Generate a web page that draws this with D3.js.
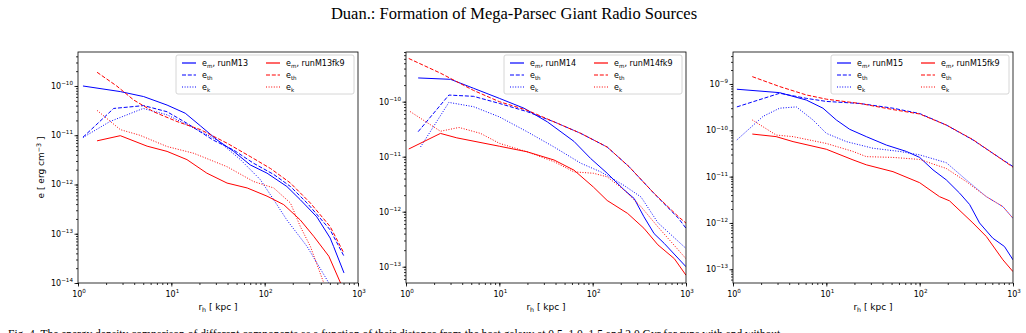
<!DOCTYPE html>
<meta charset="utf-8">
<head>
  <script src="https://cdn.jsdelivr.net/npm/d3@7/dist/d3.min.js"></script>
  <style>
    body { margin: 0; background: #fff; }
    svg text { font-family: "DejaVu Sans", sans-serif; fill: #000; }
    .title, .caption { font-family: "Liberation Serif", "Times New Roman", serif; }
    .axis path, .axis line { stroke: #000; stroke-width: 0.8; }
  </style>
</head>
<body>
<script>
// run names and what each line is
var runs = ["M13", "M14", "M15"];
var quantities = ["em", "eth", "ek"];

// y-axis range of each panel
var yDomains = [[1e-14, 4.9e-10], [5.06e-14, 8.0e-10], [5.06e-14, 4.9e-9]];
var yTicks = [[1e-14, 1e-13, 1e-12, 1e-11, 1e-10], [1e-13, 1e-12, 1e-11, 1e-10], [1e-13, 1e-12, 1e-11, 1e-10, 1e-9]];
var xTicks = [1, 10, 100, 1000];

// [r_h (kpc), e (erg cm^-3)]
var m13_em = [[1.13,1.0e-10],[2.84,7.7e-11],[5.05,6.1e-11],[9,4.1e-11],[14.1,2.8e-11],[20.5,1.55e-11],[31,8e-12],[46.6,4.7e-12],[70,2.5e-12],[106,1.7e-12],[173,9.1e-13],[241,4.9e-13],[362,2.2e-13],[503,8.2e-14],[548,5.5e-14],[708,1.6e-14]];
var m13_eth = [[1.13,9.1e-12],[2.41,3.5e-11],[5.05,4.0e-11],[9,3.0e-11],[14.7,1.75e-11],[28,8e-12],[46.6,5e-12],[76,2.7e-12],[125,1.6e-12],[189,9.1e-13],[285,4.2e-13],[503,1.2e-13],[708,3.5e-14]];
var m13_ek = [[1.13,9e-12],[2.2,1.9e-11],[5,3.5e-11],[9,2.6e-11],[17.4,1.4e-11],[31,8e-12],[55,3.2e-12],[90,1.25e-12],[125,4.9e-13],[173,1.9e-13],[285,5.5e-14],[487,1e-14],[520,7e-15]];
var m13fk9_em = [[1.6,7.7e-12],[2.84,9.8e-12],[5.5,6e-12],[9,4.7e-12],[14.7,3.2e-12],[24,1.7e-12],[39.5,1.07e-12],[65,8.5e-13],[106,5.8e-13],[160,3.9e-13],[241,1.9e-13],[335,8.9e-14],[487,3.5e-14],[650,1e-14],[700,7e-15]];
var m13fk9_eth = [[1.6,1.9e-10],[2.6,1e-10],[3.95,5.2e-11],[6.45,3e-11],[11.5,1.9e-11],[20.5,1.3e-11],[39.5,6.9e-12],[70,3.7e-12],[116,2.1e-12],[189,1.07e-12],[309,4.2e-13],[503,1.4e-13],[708,4e-14]];
var m13fk9_ek = [[1.6,3.2e-11],[2.84,1.3e-11],[4.6,1e-11],[9,5.9e-12],[17.4,4.3e-12],[39.5,2.3e-12],[76,1.15e-12],[125,8.5e-13],[189,4.2e-13],[241,1.4e-13],[309,5.5e-14],[430,1e-14],[470,7e-15]];

var m14_em = [[1.35,2.7e-10],[3.0,2.55e-10],[5.3,1.75e-10],[10,1.15e-10],[18.4,7.6e-11],[32.7,4.3e-11],[63,1.9e-11],[95,9.3e-12],[143,5e-12],[217,2.5e-12],[278,1.74e-12],[354,8.1e-13],[455,4e-13],[585,2.65e-13],[1000,1e-13]];
var m14_eth = [[1.35,2.85e-11],[2.88,1.32e-10],[5.3,1.25e-10],[10,9.3e-11],[19.8,6.6e-11],[38.6,4.3e-11],[74.7,2.65e-11],[143,1.5e-11],[245,6.6e-12],[455,2.15e-12],[830,7.6e-13],[1000,5e-13]];
var m14_ek = [[1.43,1.5e-11],[2.88,9.7e-11],[5.3,8.1e-11],[10,5.3e-11],[19.8,2.85e-11],[38.6,1.5e-11],[74.7,7.6e-12],[122,5.3e-12],[217,3e-12],[330,1.85e-12],[500,6.3e-13],[1000,2.15e-13]];
var m14fk9_em = [[1.07,1.38e-11],[2.34,2.65e-11],[3.5,2.2e-11],[10,1.55e-11],[19.8,1.23e-11],[38.6,8.7e-12],[63,5.7e-12],[102,2.8e-12],[143,1.6e-12],[237,9.3e-13],[354,5e-13],[500,2.5e-13],[750,1.4e-13],[1000,7e-14]];
var m14fk9_eth = [[1.07,6.1e-10],[2.34,3.3e-10],[5.3,1.6e-10],[10,1e-10],[19.8,7e-11],[38.6,4.3e-11],[74.7,2.65e-11],[143,1.5e-11],[245,6.6e-12],[455,2.15e-12],[830,8.1e-13],[1000,6.2e-13]];
var m14fk9_ek = [[1.11,6.6e-11],[2.34,2.9e-11],[3.7,3.4e-11],[6.3,2.65e-11],[10,1.75e-11],[19.8,1.23e-11],[38.6,8.1e-12],[63,5.3e-12],[102,5e-12],[143,4.3e-12],[217,2.5e-12],[330,1.23e-12],[500,5.3e-13],[1000,1.4e-13]];

var m15_em = [[1.1,7.7e-10],[3.16,6.5e-10],[6.1,4.5e-10],[9.2,3e-10],[12.8,1.67e-10],[17.8,1.05e-10],[26.8,7.3e-11],[44,4.8e-11],[72,3.5e-11],[100,2.6e-11],[139,1.4e-11],[193,8.5e-12],[268,4.4e-12],[343,2.5e-12],[438,1e-12],[607,4.7e-13],[810,3.1e-13],[1000,1.6e-13]];
var m15_eth = [[1.1,3.2e-10],[3.16,6.3e-10],[6.1,4.9e-10],[10,4.2e-10],[22.7,3.8e-10],[51.8,3e-10],[100,2.3e-10],[193,1.3e-10],[372,6.2e-11],[607,3.2e-11],[1000,1.65e-11]];
var m15_ek = [[1.1,6.2e-11],[2.1,2e-10],[3.16,3e-10],[4.77,3.2e-10],[7.2,1.67e-10],[10,8.6e-11],[16.4,5.7e-11],[31.6,4.1e-11],[61,3.5e-11],[100,2.95e-11],[193,2e-11],[316,8.5e-12],[518,3.7e-12],[780,2.25e-12],[1000,1.26e-12]];
var m15fk9_em = [[1.61,8.3e-11],[2.9,7.3e-11],[4.4,5.7e-11],[10,3.9e-11],[19.3,2.3e-11],[26.8,1.8e-11],[51.8,1.28e-11],[100,7.4e-12],[163,3.7e-12],[209,3e-12],[372,1e-12],[518,5.1e-13],[780,1.6e-13],[1000,8.9e-14]];
var m15fk9_eth = [[1.61,1.44e-9],[3.16,8.8e-10],[6.1,5.8e-10],[10,4.7e-10],[22.7,3.8e-10],[51.8,2.8e-10],[100,2.25e-10],[193,1.3e-10],[372,6.3e-11],[607,3.2e-11],[1000,1.6e-11]];
var m15fk9_ek = [[1.61,1.67e-10],[2.9,7.9e-11],[4.4,7.3e-11],[10,5.2e-11],[19.3,3.5e-11],[26.8,2.7e-11],[51.8,2.6e-11],[100,2.35e-11],[193,1.5e-11],[316,7.8e-12],[518,3.7e-12],[780,2.25e-12],[1000,1.26e-12]];

var series = [
  [m13_em, m13_eth, m13_ek, m13fk9_em, m13fk9_eth, m13fk9_ek],
  [m14_em, m14_eth, m14_ek, m14fk9_em, m14fk9_eth, m14fk9_ek],
  [m15_em, m15_eth, m15_ek, m15fk9_em, m15fk9_eth, m15fk9_ek]
];

var W = 1026, H = 333;
var panelLeft = [78, 406, 733];
var pw = 280, top0 = 52, bot0 = 283;
var dashes = {em: null, eth: "4,1.8", ek: "1,1.6"};

var svg = d3.select("body").append("svg").attr("width", W).attr("height", H);

svg.append("text").attr("class", "title")
  .attr("x", 514).attr("y", 19).attr("text-anchor", "middle")
  .style("font-size", "16.5px")
  .text("Duan.: Formation of Mega-Parsec Giant Radio Sources");

function minorTicks(dom) {
  var out = [];
  var lo = Math.floor(Math.log10(dom[0])), hi = Math.ceil(Math.log10(dom[1]));
  for (var p = lo; p <= hi; p++)
    for (var k = 1; k < 10; k++) {
      var v = k * Math.pow(10, p);
      if (v >= dom[0] * 0.999 && v <= dom[1] * 1.001) out.push(v);
    }
  return out;
}

function powLabel(sel, v) {
  var p = Math.round(Math.log10(v));
  sel.text("10");
  sel.append("tspan").attr("dy", -3.8).style("font-size", "5.6px").text(String(p).replace("-", "\u2212"));
}

runs.forEach(function(run, i) {
  var x0 = panelLeft[i];
  var x = d3.scaleLog().domain([1, 1000]).range([x0, x0 + pw]);
  var y = d3.scaleLog().domain(yDomains[i]).range([bot0, top0]);
  var g = svg.append("g");

  g.append("clipPath").attr("id", "clip" + i).append("rect")
    .attr("x", x0).attr("y", top0).attr("width", pw).attr("height", bot0 - top0);

  // minor and major ticks
  g.append("g").attr("class", "axis").attr("transform", "translate(0," + bot0 + ")")
    .call(d3.axisBottom(x).tickValues(minorTicks([1, 1000])).tickSize(2).tickFormat(""))
    .select(".domain").remove();
  g.append("g").attr("class", "axis").attr("transform", "translate(0," + bot0 + ")")
    .call(d3.axisBottom(x).tickValues(xTicks).tickSize(3.5).tickFormat(""))
    .select(".domain").remove();
  g.append("g").attr("class", "axis").attr("transform", "translate(" + x0 + ",0)")
    .call(d3.axisLeft(y).tickValues(minorTicks(yDomains[i])).tickSize(2).tickFormat(""))
    .select(".domain").remove();
  g.append("g").attr("class", "axis").attr("transform", "translate(" + x0 + ",0)")
    .call(d3.axisLeft(y).tickValues(yTicks[i]).tickSize(3.5).tickFormat(""))
    .select(".domain").remove();

  xTicks.forEach(function(v) {
    g.append("text").attr("x", x(v) + 1).attr("y", 296.5).attr("text-anchor", "middle")
      .style("font-size", "8px").call(powLabel, v);
  });
  yTicks[i].forEach(function(v) {
    g.append("text").attr("x", x0 - 5).attr("y", y(v) + 3).attr("text-anchor", "end")
      .style("font-size", "8px").call(powLabel, v);
  });

  // lines
  var line = d3.line().x(function(d) { return x(d[0]); }).y(function(d) { return y(d[1]); });
  series[i].forEach(function(s, j) {
    g.append("path").datum(s)
      .attr("clip-path", "url(#clip" + i + ")")
      .attr("d", line)
      .attr("fill", "none")
      .style("stroke", j < 3 ? "#0000ff" : "#ff0000")
      .style("stroke-width", 1)
      .attr("stroke-dasharray", dashes[quantities[j % 3]]);
  });

  // frame
  g.append("rect").attr("x", x0).attr("y", top0).attr("width", pw).attr("height", bot0 - top0)
    .attr("fill", "none").attr("stroke", "#000").attr("stroke-width", 0.8);

  // x label
  var xl = g.append("text").attr("x", x0 + pw / 2).attr("y", 310).attr("text-anchor", "middle")
    .style("font-size", "9px");
  xl.append("tspan").text("r");
  xl.append("tspan").attr("dy", 2).style("font-size", "6.3px").text("h");
  xl.append("tspan").attr("dy", -2).text(" [ kpc ]");

  // legend
  var lx = x0 + pw - 182, ly = 55;
  var lg = g.append("g");
  lg.append("rect").attr("x", lx).attr("y", ly).attr("width", 178).attr("height", 39)
    .attr("rx", 2).attr("fill", "#fff").attr("fill-opacity", 0.8)
    .attr("stroke", "#ccc").attr("stroke-width", 0.8);
  quantities.forEach(function(q, j) {
    [0, 1].forEach(function(c) {
      var hx = lx + (c ? 90 : 6), yy = ly + 8 + j * 12;
      lg.append("path")
        .attr("d", "M" + hx + "," + yy + "H" + (hx + 14))
        .style("stroke", c ? "#ff0000" : "#0000ff").style("stroke-width", 1.2)
        .style("fill", "none")
        .attr("stroke-dasharray", dashes[q]);
      var t = lg.append("text").attr("x", hx + 20).attr("y", yy + 3.3).style("font-size", "8px");
      t.append("tspan").text("e");
      t.append("tspan").attr("dy", 1.8).style("font-size", "5.6px").text(q.slice(1));
      if (q === "em") t.append("tspan").attr("dy", -1.8).text(", run" + run + (c ? "fk9" : ""));
    });
  });
});

// y label on the first panel only
var yl = svg.append("text")
  .attr("transform", "translate(44," + (top0 + bot0) / 2 + ") rotate(-90)")
  .attr("text-anchor", "middle").style("font-size", "9px");
yl.append("tspan").text("e [ erg cm");
yl.append("tspan").attr("dy", -3.5).style("font-size", "6.3px").text("\u22123");
yl.append("tspan").attr("dy", 3.5).text(" ]");

// figure caption, cut by the bottom of the picture
svg.append("text").attr("class", "caption")
  .attr("x", 8).attr("y", 338).style("font-size", "11.5px")
  .text("Fig. 4. The energy density comparison of different components as a function of their distance from the host galaxy at 0.5, 1.0, 1.5 and 2.0 Gyr for runs with and without");
</script>
</body>
